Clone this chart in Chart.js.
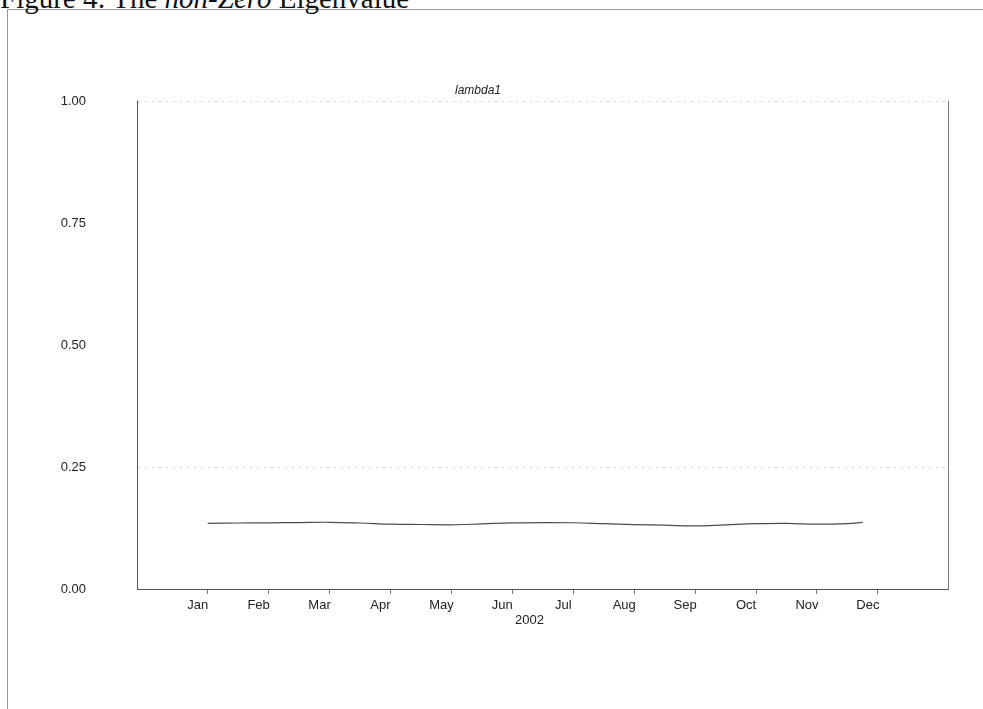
<!DOCTYPE html>
<html>
<head>
<meta charset="utf-8">
<title>The non-Zero Eigenvalue</title>
<script src="https://cdn.jsdelivr.net/npm/chart.js@4/dist/chart.umd.min.js"></script>
<style>
    html, body { margin: 0; padding: 0; background: #fff; }
    #page { position: relative; width: 983px; height: 709px; overflow: hidden; }
    #frame {
        position: absolute; left: 7px; top: 9px; right: -2px; bottom: -2px;
        border-left: 1px solid #999; border-top: 1px solid #999;
    }
    #fig-title {
        position: absolute; left: 0; top: -18px; margin: 0;
        font: 29px "Liberation Serif", "Times New Roman", serif; color: #111;
        white-space: nowrap;
    }
    #series-title {
        position: absolute; left: 455px; top: 83px;
        font: italic 12px "Liberation Sans", Arial, sans-serif; color: #222;
    }
    #year-label {
        position: absolute; left: 515px; top: 612px;
        font: 13px "Liberation Sans", Arial, sans-serif; color: #222;
    }
    #chart-box { position: absolute; left: 0; top: 0; width: 983px; height: 709px; }
</style>
</head>
<body>
<div id="page">
    <div id="frame"></div>
    <div id="fig-title">Figure 4: The <i>non-Zero</i> Eigenvalue</div>
    <div id="chart-box"><canvas id="chart"></canvas></div>
    <div id="series-title">lambda1</div>
    <div id="year-label"></div>
</div>
<script>
// --- Données ---

const monthLabels = ['Jan', 'Feb', 'Mar', 'Apr', 'May', 'Jun', 'Jul', 'Aug', 'Sep', 'Oct', 'Nov', 'Dec'];
const monthTicks = [0, 1, 2, 3, 4, 5, 6, 7, 8, 9, 10, 11];
const yearLabel = '2002';

// position en mois depuis janvier 2002
const samplePos = [0, 0.5, 1, 1.5, 2, 2.5, 3, 3.5, 4, 4.5, 5, 5.5,
    6, 6.5, 7, 7.5, 8, 8.5, 9, 9.5, 10, 10.5, 10.75];
const lambda1 = [0.1346, 0.1352, 0.1355, 0.1362, 0.1367, 0.1352, 0.1328, 0.1322, 0.1316, 0.1335, 0.1356, 0.1362,
    0.1358, 0.1340, 0.1320, 0.1308, 0.1292, 0.1315, 0.1338, 0.1345, 0.1328, 0.1340, 0.1365];

const yTicks = [0, 0.25, 0.5, 0.75, 1];
const faintLines = [0.25, 1];

document.getElementById('year-label').textContent = yearLabel;

// --- Graphique ---

const axisFont = { family: '"Liberation Sans", Arial, sans-serif', size: 13 };

new Chart(document.getElementById('chart'), {
    type: 'line',
    data: {
        datasets: [{
            label: 'lambda1',
            data: samplePos.map((x, i) => ({ x: x, y: lambda1[i] })),
            borderColor: 'rgba(45,45,45,0.85)',
            borderWidth: 1.2,
            pointRadius: 0,
            tension: 0.4,
            fill: false
        }]
    },
    options: {
        responsive: true,
        maintainAspectRatio: false,
        animation: false,
        layout: { padding: { left: 0, top: 101, right: 35, bottom: 80 } },
        plugins: {
            legend: { display: false },
            tooltip: { enabled: false }
        },
        scales: {
            x: {
                type: 'linear',
                min: -1.16,
                max: 12.15,
                afterBuildTicks: (scale) => { scale.ticks = monthTicks.map(v => ({ value: v })); },
                afterFit: (scale) => { scale.height = 40; },
                ticks: {
                    callback: (v) => monthLabels[v],
                    font: axisFont,
                    color: '#222',
                    padding: 4,
                    labelOffset: -10,
                    maxRotation: 0,
                    autoSkip: false
                },
                grid: { drawOnChartArea: false, drawTicks: true, tickLength: 5, color: '#777' },
                border: { color: '#555', width: 1 }
            },
            y: {
                min: 0,
                max: 1,
                afterBuildTicks: (scale) => { scale.ticks = yTicks.map(v => ({ value: v })); },
                afterFit: (scale) => { scale.width = 137; },
                ticks: {
                    callback: (v) => v.toFixed(2),
                    font: axisFont,
                    color: '#222',
                    padding: 51
                },
                grid: {
                    drawTicks: false,
                    color: (ctx) => faintLines.includes(ctx.tick && ctx.tick.value) ? 'rgba(0,0,0,0.2)' : 'rgba(0,0,0,0)'
                },
                border: { color: '#555', width: 1, dash: [2, 5] }
            },
            y2: {
                position: 'right',
                min: 0,
                max: 1,
                afterFit: (scale) => { scale.width = 0; },
                ticks: { display: false },
                grid: { display: false },
                border: { color: '#777', width: 1 }
            }
        }
    }
});
</script>
</body>
</html>
